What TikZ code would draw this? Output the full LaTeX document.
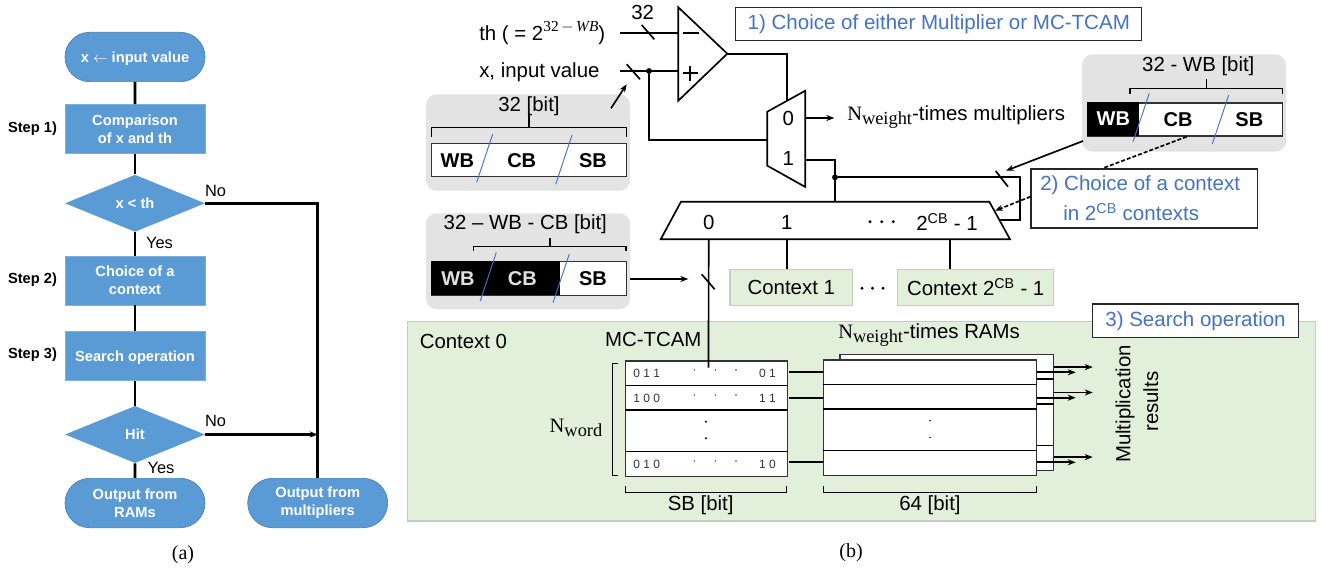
\documentclass[tikz,border=0pt]{standalone}
\usepackage{fontspec}
\setmainfont{Liberation Sans}
\newfontfamily\serifface{Liberation Serif}
\usetikzlibrary{shapes.geometric,shapes.misc,arrows.meta}
\definecolor{flowblue}{HTML}{5B9BD5}
\definecolor{flowedge}{HTML}{4A7FB0}
\definecolor{noteblue}{HTML}{4472C4}
\definecolor{ctxgreen}{HTML}{E2EFDA}
\definecolor{ctxedge}{HTML}{C3CDBC}
\definecolor{panelgray}{HTML}{E3E3E3}
\newcommand{\Nsub}[1]{{\serifface N\raisebox{-3pt}{\fontsize{13.8}{13.8}\selectfont #1}}}
\tikzset{
  flowtext/.style={text=white,font=\bfseries\fontsize{11}{13.3}\selectfont,align=center,inner sep=0pt},
  flowbox/.style={flowtext,rectangle,fill=flowblue,draw=flowblue!80!white,minimum width=105pt,minimum height=37pt},
  flowend/.style={flowtext,rounded rectangle,fill=flowblue,draw=flowedge,line width=.5pt,minimum width=105pt,minimum height=37pt},
  flowtest/.style={flowtext,diamond,fill=flowblue,shape aspect=2.46,minimum width=105pt,minimum height=42.8pt},
  flowline/.style={line width=1.9pt},
  flowlbl/.style={font=\fontsize{12.3}{14}\selectfont,inner sep=0pt},
  steplbl/.style={font=\bfseries\fontsize{11}{13}\selectfont,inner sep=0pt},
  caplbl/.style={font=\serifface\fontsize{15}{17}\selectfont,inner sep=0pt},
  lbl/.style={font=\fontsize{15.3}{18}\selectfont,inner sep=0pt},
  wire/.style={line width=1.25pt},
  thinwire/.style={line width=.9pt},
  bitlbl/.style={font=\bfseries\fontsize{15}{18}\selectfont,inner sep=0pt},
  panel/.style={rectangle,rounded corners=8pt,fill=panelgray,minimum width=153pt,inner sep=0pt},
  wordbox/.style={rectangle,fill=white,draw=black!80,line width=1pt,inner sep=0pt},
  blueslash/.style={noteblue,line width=.7pt},
  note/.style={rectangle,fill=white,draw=black!85,line width=.9pt,text=noteblue,inner sep=0pt,font=\fontsize{15.4}{19.8}\selectfont},
  ctxbox/.style={lbl,rectangle,fill=ctxgreen,draw=ctxedge,line width=.8pt},
  rowbox/.style={rectangle,fill=white,draw=black!80,line width=1pt,inner sep=0pt},
  bits/.style={font=\fontsize{9}{10}\selectfont,inner sep=0pt,text=black!80},
  tap/.style={circle,fill=black,inner sep=0pt,minimum size=4.4pt},
}
\begin{document}
\begin{tikzpicture}[x=.75pt,y=-.75pt,>={Stealth[length=6pt,width=4.6pt]}]
  \useasboundingbox (0,0) rectangle (1328,573);
  % (a) flow chart
  \node[flowend,text depth=0pt] (start) at (135,57) {x $\leftarrow$ input value};
  \node[flowbox] (cmp) at (135,129) {Comparison\\of x and th};
  \node[flowtest] (lt) at (135,203.3) {x < th};
  \node[flowbox] (pick) at (135,280.5) {Choice of a\\context};
  \node[flowbox,text depth=0pt] (search) at (135,356) {Search operation};
  \node[flowtest] (hit) at (135,434.5) {Hit};
  \node[flowend] (outram) at (135,503) {Output from\\RAMs};
  \node[flowend] (outmul) at (317.7,503) {Output from\\multipliers};
  \coordinate (bend) at (outmul.north |- lt.east);
  \coordinate (join) at (outmul.north |- hit.east);
  \draw[flowline] (start) -- (cmp);
  \draw[flowline] (cmp) -- (lt);
  \draw[flowline] (lt) -- (pick);
  \draw[flowline] (pick) -- (search);
  \draw[flowline] (search) -- (hit);
  \draw[flowline] (hit) -- (outram);
  \draw[flowline] (lt.east) -- (bend) -- (outmul.north);
  \draw[flowline,->] (hit.east) -- (join);
  \node[flowlbl] (no1) at (215.5,191) {No};
  \node[flowlbl] (yes1) at (159.5,243) {Yes};
  \node[flowlbl] (no2) at (215.5,420.5) {No};
  \node[flowlbl] (yes2) at (161,468) {Yes};
  \node[steplbl] (step1) at (32.5,129) {Step 1)};
  \node[steplbl] (step2) at (32.5,280) {Step 2)};
  \node[steplbl] (step3) at (32.5,355) {Step 3)};
  \node[caplbl] (capa) at (183,555) {(a)};
  \node[caplbl] (capb) at (851,553) {(b)};

  % (b) context 0 block
  \node[rectangle,fill=ctxgreen,draw=ctxedge,line width=.8pt,minimum width=681pt,minimum height=149.5pt] (ctx0) at (861.2,421.3) {};
  \node[lbl,anchor=west] (ctx0lbl) at (419.5,341.7) {Context 0};
  \node[lbl] (tcamlbl) at (653.3,339.3) {MC-TCAM};
  \node[lbl,anchor=west] (ramlbl) at (838,335) {\Nsub{weight}-times RAMs};

  % comparator and mux
  \coordinate (cmptop) at (678.3,7.3);
  \coordinate (cmpbot) at (678.3,100.7);
  \coordinate (cmpout) at (727.3,53.7);
  \draw[wire,fill=white] (cmptop) -- (cmpout) -- (cmpbot) -- cycle;
  \coordinate (mux0) at (767.3,111.7);
  \coordinate (mux1) at (805.3,90.7);
  \coordinate (mux2) at (805.3,187);
  \coordinate (mux3) at (767.3,165.7);
  \draw[wire,fill=white] (mux0) -- (mux1) -- (mux2) -- (mux3) -- cycle;
  \node[lbl] (th) [anchor=west] at (479,33) {th ( = 2\raisebox{6.2pt}{\fontsize{11.5}{11.5}\selectfont\serifface 32\,$-$\,\textit{WB}})};
  \node[lbl] (xin) [anchor=west] at (479,72) {x, input value};
  \node[lbl] (w32) at (642.7,12.5) {32};
  \node[lbl] (sel0) at (788.3,118.3) {0};
  \node[lbl] (sel1) at (788.3,158.7) {1};
  \coordinate (thstart) at (620,33);
  \coordinate (thend) at (678.3,33);
  \coordinate (xstart) at (620,71);
  \coordinate (xend) at (678.3,71);
  \coordinate (muxin) at (767.3,139.7);
  \coordinate (muxsel) at (786.7,100);
  \node[tap] (xtap) at (649,71) {};
  \draw[wire] (thstart) -- (thend);
  \draw[wire] (xstart) -- (xend);
  \draw[wire] (xtap) |- (muxin);
  \draw[wire] (cmpout) -| (muxsel);
  \draw[wire] (641.7,25) -- (654.3,39.3);
  \draw[wire] (626.7,64.3) -- (640,79.3);
  \draw[wire] (682.7,73) -- (697.7,73);
  \draw[wire] (690.2,66) -- (690.2,81);
  \coordinate (mulout) at (805.3,118);
  \coordinate (multip) at (834.3,118);
  \draw[wire,->] (mulout) -- (multip);
  \node[lbl,anchor=west] (mullbl) at (847,117) {\Nsub{weight}-times multipliers};

  % decoder
  \coordinate (dec0) at (681,201.7);
  \coordinate (dec1) at (989.3,201.7);
  \coordinate (dec2) at (1010,239.3);
  \coordinate (dec3) at (660.7,239.3);
  \coordinate (wbin) at (998,220);
  \coordinate (muxout) at (805.3,160);
  \coordinate (dectop) at (835,201.7);
  \coordinate (wbcorner) at (1020,177.3);
  \node[tap] (dectap) at (835,177.3) {};
  \draw[wire] (muxout) -| (dectop);
  \draw[wire] (dectap) -- (wbcorner) |- (wbin);
  \draw[wire] (995.7,171) -- (1008,186.7);
  \draw[wire,fill=white] (dec0) -- (dec1) -- (dec2) -- (dec3) -- cycle;
  \node[lbl] (out0) at (708.7,222.7) {0};
  \node[lbl] (out1) at (786.7,222.7) {1};
  \foreach \dotx in {870,881.7,893.3}
    \fill[black] (\dotx,221.7) circle (1.2pt);
  \node[lbl] (outn) at (947,222) {2\textsuperscript{CB} - 1};

  % contexts
  \node[ctxbox,minimum width=92pt,minimum height=27.3pt] (ctx1) at (791.3,287.5) {Context 1};
  \node[ctxbox,minimum width=117pt,minimum height=27.3pt] (ctxn) at (975.7,287.5) {Context 2\textsuperscript{CB} - 1};
  \foreach \dotx in {862,872.5,883}
    \fill[black] (\dotx,288.3) circle (1.2pt);
  \draw[wire] (out1 |- dec3) -- (ctx1.north -| out1);
  \draw[wire] (950,239.3) -- (950,269.3);

  % 32 bit word
  \node[panel,minimum height=72.3pt] (panelA) at (528,142.5) {};
  \node[lbl] (labelA) at (529,106) {32 [bit]};
  \node[wordbox,minimum width=146.2pt,minimum height=24.8pt] (wordA) at (529.2,160.2) {};
  \draw[thinwire] (431.7,137.3) -- (431.7,127.3) -- (626.3,127.3) -- (626.3,137.3);
  \draw[thinwire] (529,127.3) -- (529,113);
  \node[bitlbl] (wbA) at (457.3,160.7) {WB};
  \node[bitlbl] (cbA) at (521.7,160.7) {CB};
  \node[bitlbl] (sbA) at (593,160.7) {SB};
  \draw[blueslash] (492.7,134) -- (476.7,182.3);
  \draw[blueslash] (572,135) -- (555.7,184.3);
  \coordinate (wordAarrow) at (611,108.3);
  \coordinate (xbus) at (626.7,84.3);
  \draw[wire,->] (wordAarrow) -- (xbus);

  % 32 - WB - CB word
  \node[panel,minimum height=72pt] (panelB) at (528,261.3) {};
  \node[lbl] (labelB) at (525.3,224) {32 – WB - CB [bit]};
  \node[wordbox,minimum width=146.2pt,minimum height=25.2pt] (wordB) at (529.2,278.5) {};
  \fill[black] (wordB.north west) rectangle (560,295.3);
  \draw[thinwire] (473.7,251.3) -- (473.7,246.7) -- (626,246.7) -- (626,251.3);
  \draw[thinwire] (550,246.7) -- (550,237.7);
  \node[bitlbl,text=black!12] (wbB) at (458,278.7) {WB};
  \node[bitlbl,text=black!12] (cbB) at (522.3,278.7) {CB};
  \node[bitlbl] (sbB) at (593,278.7) {SB};
  \draw[blueslash] (496.3,252.3) -- (480.3,301);
  \draw[blueslash] (569.3,254) -- (553,302.7);
  \coordinate (sbbus) at (688.3,279);
  \draw[wire,->] (630,279) -- (sbbus);

  % 32 - WB word
  \node[panel,minimum height=73pt] (panelC) at (1184,103) {};
  \node[lbl] (labelC) at (1198.3,66) {32 - WB [bit]};
  \node[wordbox,minimum width=146pt,minimum height=24.8pt] (wordC) at (1185.3,119.5) {};
  \fill[black] (wordC.north west) rectangle (1139.3,136);
  \draw[thinwire] (1130,93.7) -- (1130,88.7) -- (1282.7,88.7) -- (1282.7,93.7);
  \draw[thinwire] (1206.3,88.7) -- (1206.3,79.3);
  \node[bitlbl,text=white] (wbC) at (1113.3,118.3) {WB};
  \node[bitlbl] (cbC) at (1178,120) {CB};
  \node[bitlbl] (sbC) at (1249.3,120) {SB};
  \draw[blueslash] (1149.3,93.3) -- (1133,141.7);
  \draw[blueslash] (1228.7,95) -- (1212.3,144);

  % step notes
  \node[note,minimum width=304.5pt,minimum height=24.7pt] (note1) at (938.8,23.8) {1) Choice of either Multiplier or MC-TCAM};
  \node[note,minimum width=169.7pt,minimum height=44.2pt] (note2) at (1144.2,198.5) {};
  \node[text=noteblue,font=\fontsize{15.4}{19.8}\selectfont,inner sep=0pt,anchor=west] (note2a) at (1040,185.3) {2) Choice of a context};
  \node[text=noteblue,font=\fontsize{15.4}{19.8}\selectfont,inner sep=0pt,anchor=west] (note2b) at (1063,211.7) {in 2\textsuperscript{CB} contexts};
  \node[note,minimum width=154.2pt,minimum height=25pt] (note3) at (1195.5,320.7) {3) Search operation};
  \coordinate (cbtap) at (1186.7,136.7);
  \coordinate (wbtip) at (1006,170.7);
  \coordinate (cbtip) at (995,210.7);
  \draw[wire,->] (panelC.south west |- 0,141) ++(1.3,0) -- (wbtip);
  \draw[wire,dashed,dash pattern=on 3pt off 1.5pt] (cbtap) -- (1102.7,168.3);
  \draw[wire,dashed,dash pattern=on 3pt off 1.5pt,->] (note2.west |- 0,196.7) -- (cbtip);

  % tcam
  \node[rowbox,minimum width=121.2pt,minimum height=86.7pt] (tcam) at (706.5,418.8) {};
  \foreach \rowy in {385.7,410,451.7}
    \draw[thinwire] (tcam.west |- 0,\rowy) -- (tcam.east |- 0,\rowy);
  \foreach \rowy/\left/\right in {373.3/0 1 1/0 1,398.3/1 0 0/1 1,464.3/0 1 0/1 0}{
    \node[bits,anchor=west] at (633,\rowy) {\left};
    \node[bits,anchor=east] at (776,\rowy) {\right};
    \foreach \dotx in {694.3,715.3,736}
      \fill[black!80] (\dotx,\rowy-3.3) circle (.6pt);
  }
  \fill[black] (706,421.7) circle (.8pt) (706,438.3) circle (.8pt);
  \coordinate (tcamin) at (708.5,367.7);
  \draw[wire] (out0 |- dec3) -- (tcamin);
  \draw[wire] (701.7,274.3) -- (714.7,289.3);
  \draw[thinwire] (618,363.3) -- (612.7,363.3) -- (612.7,475.7) -- (618,475.7);
  \node[lbl] (nword) at (576,428) {\Nsub{word}};
  \draw[thinwire] (625.7,486) -- (625.7,492.3) -- (786.7,492.3) -- (786.7,486);
  \node[lbl] (sblbl) at (700.7,505.7) {SB [bit]};

  % rams
  \node[rowbox,minimum width=160pt,minimum height=87pt] (ramback) at (946.7,412.3) {};
  \foreach \rowy in {379,404,445.7}
    \draw[thinwire] (1036,\rowy) -- (ramback.east |- 0,\rowy);
  \node[rowbox,minimum width=160pt,minimum height=86.7pt] (ram) at (930,417.8) {};
  \foreach \rowy in {384.3,409,450.7}
    \draw[thinwire] (ram.west |- 0,\rowy) -- (ram.east |- 0,\rowy);
  \fill[black] (930,420.7) circle (.6pt) (930,437.3) circle (.6pt);
  \foreach \rowy in {372.3,397.7,462.3}{
    \draw[wire] (tcam.east |- 0,\rowy) ++(1.5,0) -- (ram.west |- 0,\rowy);
    \draw[wire,->] (ram.east |- 0,\rowy) -- (1075.7,\rowy);
    \draw[wire,->] (ramback.east |- 0,\rowy-5.2) -- (1092.7,\rowy-5.2);
  }
  \draw[thinwire] (823.3,485.7) -- (823.3,492.3) -- (1036.7,492.3) -- (1036.7,485.7);
  \node[lbl] (ramwidth) at (930,505) {64 [bit]};
  \node[lbl,rotate=90] (res1) at (1125,404) {Multiplication};
  \node[lbl,rotate=90] (res2) at (1150.7,401.7) {results};
  % minus sign of the comparator
  \draw[line width=1.4pt] (682.5,33) -- (699,33);
\end{tikzpicture}
\end{document}
